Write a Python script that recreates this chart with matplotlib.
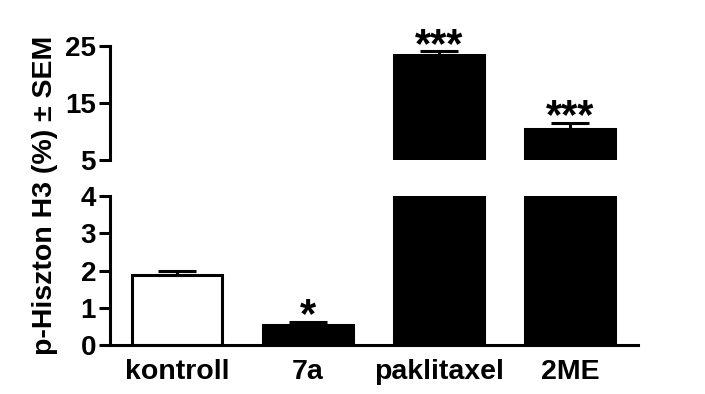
import matplotlib.pyplot as plt

plt.rcParams['font.family'] = ['Liberation Sans', 'DejaVu Sans']
plt.rcParams['font.weight'] = 'bold'

groups = ['kontroll', '7a', 'paklitaxel', '2ME']
values = [1.88, 0.55, 23.4, 10.5]
sem = [0.11, 0.08, 0.7, 1.0]
colors = ['white', 'black', 'black', 'black']
stars = ['', '*', '***', '***']

lw = 2.2
fig = plt.figure(figsize=(7.05, 3.94), dpi=100)
ax_lo = fig.add_axes([0.156, 0.1244, 0.749, 0.378])
ax_hi = fig.add_axes([0.156, 0.594, 0.749, 0.289])

x = list(range(len(groups)))

# lower part: 0 - 4
ax_lo.bar(x, values, width=0.69, color=colors, edgecolor='black', linewidth=lw)
ax_lo.errorbar(x[:2], values[:2], yerr=[[0, 0], sem[:2]], fmt='none', ecolor='black',
               elinewidth=lw, capsize=14, capthick=lw)
ax_lo.set_ylim(0, 4)
ax_lo.set_yticks([0, 1, 2, 3, 4])
ax_lo.set_xlim(-0.51, 3.52)
ax_lo.set_xticks(x)
ax_lo.set_xticklabels(groups, fontsize=20.5, fontweight='bold')
ax_lo.tick_params(axis='x', length=0, pad=10)
ax_lo.annotate(stars[1], (1, values[1] + sem[1]), xytext=(0, -4), textcoords='offset points',
               ha='center', va='baseline', fontsize=30, fontweight='bold')

# upper part: 5 - 25
ax_hi.bar(x[2:], values[2:], width=0.69, color='black', edgecolor='black', linewidth=lw)
ax_hi.errorbar(x[2:], values[2:], yerr=[[0, 0], sem[2:]], fmt='none', ecolor='black',
               elinewidth=lw, capsize=14, capthick=lw)
ax_hi.set_ylim(5, 25)
ax_hi.set_yticks([5, 15, 25])
ax_hi.set_xlim(-0.51, 3.52)
ax_hi.set_xticks([])
for i in (2, 3):
    ax_hi.annotate(stars[i], (i, values[i] + sem[i]), xytext=(0, -4), textcoords='offset points',
                   ha='center', va='baseline', fontsize=30, fontweight='bold',
                   annotation_clip=False)

for ax in (ax_lo, ax_hi):
    for s in ('top', 'right'):
        ax.spines[s].set_visible(False)
    ax.spines['left'].set_linewidth(lw)
    ax.spines['bottom'].set_linewidth(lw)
    ax.tick_params(axis='y', length=8, width=lw, labelsize=20, pad=2)
    for lab in ax.get_yticklabels():
        lab.set_fontweight('bold')
ax_hi.spines['bottom'].set_visible(False)

fig.text(0.064, 0.505, 'p-Hiszton H3 (%) ± SEM', rotation=90, ha='center', va='center',
         fontsize=20.5, fontweight='bold')

fig.savefig('out.png', dpi=100)
